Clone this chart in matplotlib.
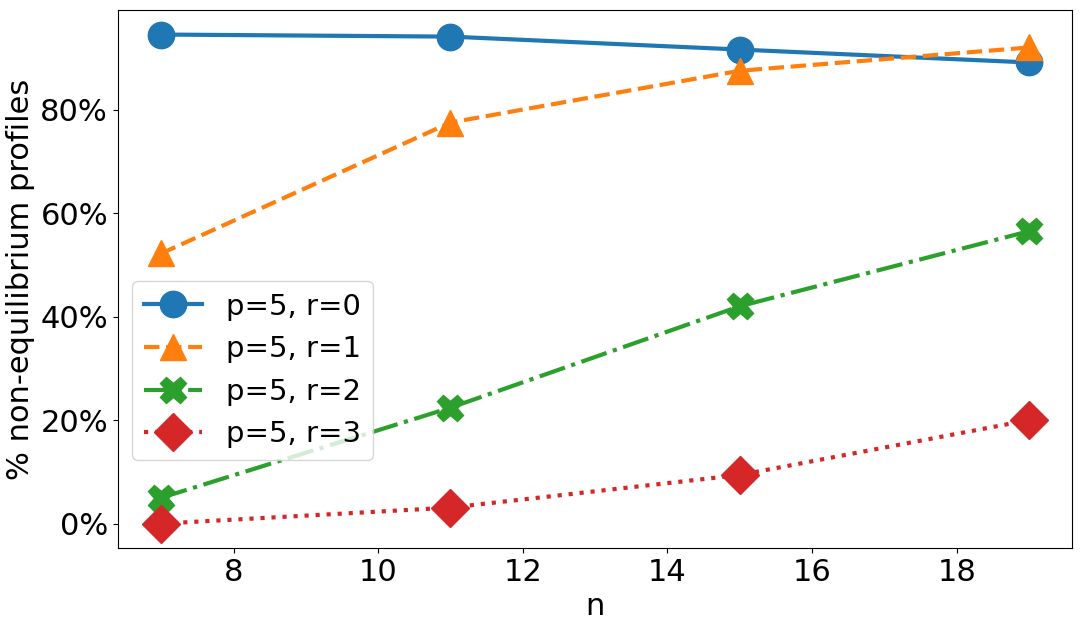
import matplotlib
matplotlib.use("Agg")
import matplotlib.pyplot as plt
from matplotlib.ticker import FuncFormatter

n_values = [7, 11, 15, 19]
r0 = [94.5, 94.1, 91.6, 89.1]
r1 = [52.2, 77.5, 87.5, 92.0]
r2 = [5.0, 22.4, 42.0, 56.5]
r3 = [0.0, 3.1, 9.4, 20.0]
labels = ["p=5, r=0", "p=5, r=1", "p=5, r=2", "p=5, r=3"]

plt.rcParams['font.size'] = 22
fig, ax = plt.subplots(figsize=(10.81, 6.3), dpi=100)
ax.plot(n_values, r0, marker='o', linestyle='-', lw=3, ms=19, color='#1f77b4', label=labels[0])
ax.plot(n_values, r1, marker='^', linestyle='--', lw=3, ms=19, color='#ff7f0e', label=labels[1])
ax.plot(n_values, r2, marker='X', linestyle='-.', lw=3, ms=19, color='#2ca02c', label=labels[2])
ax.plot(n_values, r3, marker='D', linestyle=':', lw=3, ms=19, color='#d62728', label=labels[3])

ax.yaxis.set_major_formatter(FuncFormatter(lambda v, p: f"{v:.0f}%"))
ax.set_xlabel("n")
ax.set_ylabel("% non-equilibrium profiles")
ax.legend(loc='center left', bbox_to_anchor=(0.0, 0.33), fontsize=21)
fig.subplots_adjust(left=0.109, right=0.992, top=0.984, bottom=0.13)
fig.savefig("out.png")
